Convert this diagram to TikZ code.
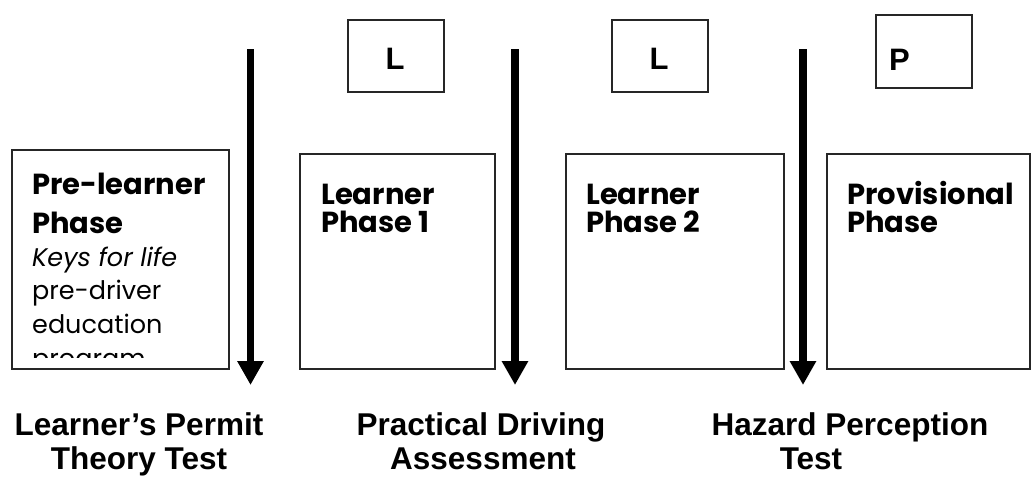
\documentclass[tikz,border=0pt]{standalone}
\usepackage{fontspec}
\setmainfont{Poppins}
\newfontfamily\arialf{Liberation Sans}
\usetikzlibrary{arrows.meta}
\begin{document}
\begin{tikzpicture}[x=1pt,y=-1pt,
  phasebox/.style={draw=black!85,line width=1.6pt,anchor=north west,inner sep=0pt},
  tagbox/.style={draw=black!85,line width=1.6pt,anchor=north west,inner sep=0pt},
  head/.style={anchor=base west,inner sep=0pt,font=\fontsize{29}{34}\selectfont\bfseries},
  body/.style={anchor=base west,inner sep=0pt,font=\fontsize{25.5}{30}\selectfont},
  tagtxt/.style={inner sep=0pt,font=\arialf\fontsize{31}{36}\selectfont\bfseries},
  test/.style={anchor=base,inner sep=0pt,font=\arialf\fontsize{31.5}{36}\selectfont\bfseries},
  bigarrow/.style={line width=7.5pt,-{Triangle[width=25pt,length=24pt]}}
]
\useasboundingbox (0,0) rectangle (1031,477);
% phase boxes
\node[phasebox,minimum width=217pt,minimum height=219pt] (pre) at (11,149) {};
\node[phasebox,minimum width=195pt,minimum height=215pt] (lp1) at (299,153) {};
\node[phasebox,minimum width=218pt,minimum height=215pt] (lp2) at (565,153) {};
\node[phasebox,minimum width=203pt,minimum height=215pt] (prov) at (826,153) {};
% plate boxes
\node[tagbox,minimum width=96pt,minimum height=72pt] (l1) at (347,19) {};
\node[tagbox,minimum width=96pt,minimum height=72pt] (l2) at (611,19) {};
\node[tagbox,minimum width=96pt,minimum height=73pt] (p) at (875,14) {};
\node[tagtxt,anchor=base] (l1t) at (395,69) {L};
\node[tagtxt,anchor=base] (l2t) at (659,69) {L};
\node[tagtxt,anchor=base west] (pt) at (889,70) {P};
% pre-learner text (clipped)
\begin{scope}
\clip (11,149) rectangle (228,357);
\node[head] (pre1) at (32,194) {Pre-learner};
\node[head] (pre2) at (32,233) {Phase};
\node[body] (pre3) at (32,266) {\itshape Keys for life};
\node[body] (pre4) at (32,299) {pre-driver};
\node[body] (pre5) at (32,333) {education};
\node[body] (pre6) at (32,367) {program};
\end{scope}
\node[head] (lp1a) at (321,204) {Learner};
\node[head] (lp1b) at (321,232) {Phase 1};
\node[head] (lp2a) at (586,204) {Learner};
\node[head] (lp2b) at (586,232) {Phase 2};
\node[head] (pva) at (847,204) {Provisional};
\node[head] (pvb) at (847,232) {Phase};
% arrows
\coordinate (a1s) at (250.5,49);
\coordinate (a1e) at (250.5,385);
\coordinate (a2s) at (515,49);
\coordinate (a2e) at (515,385);
\coordinate (a3s) at (803,49);
\coordinate (a3e) at (803,385);
\draw[bigarrow] (a1s) -- (a1e);
\draw[bigarrow] (a2s) -- (a2e);
\draw[bigarrow] (a3s) -- (a3e);
% test labels
\node[test] (t1a) at (139,435.5) {Learner’s Permit};
\node[test] (t1b) at (139,469.5) {Theory Test};
\node[test] (t2a) at (481,435.5) {Practical Driving};
\node[test] (t2b) at (483,469.5) {Assessment};
\node[test] (t3a) at (850,435.5) {Hazard Perception};
\node[test] (t3b) at (811,469.5) {Test};
\end{tikzpicture}
\end{document}
